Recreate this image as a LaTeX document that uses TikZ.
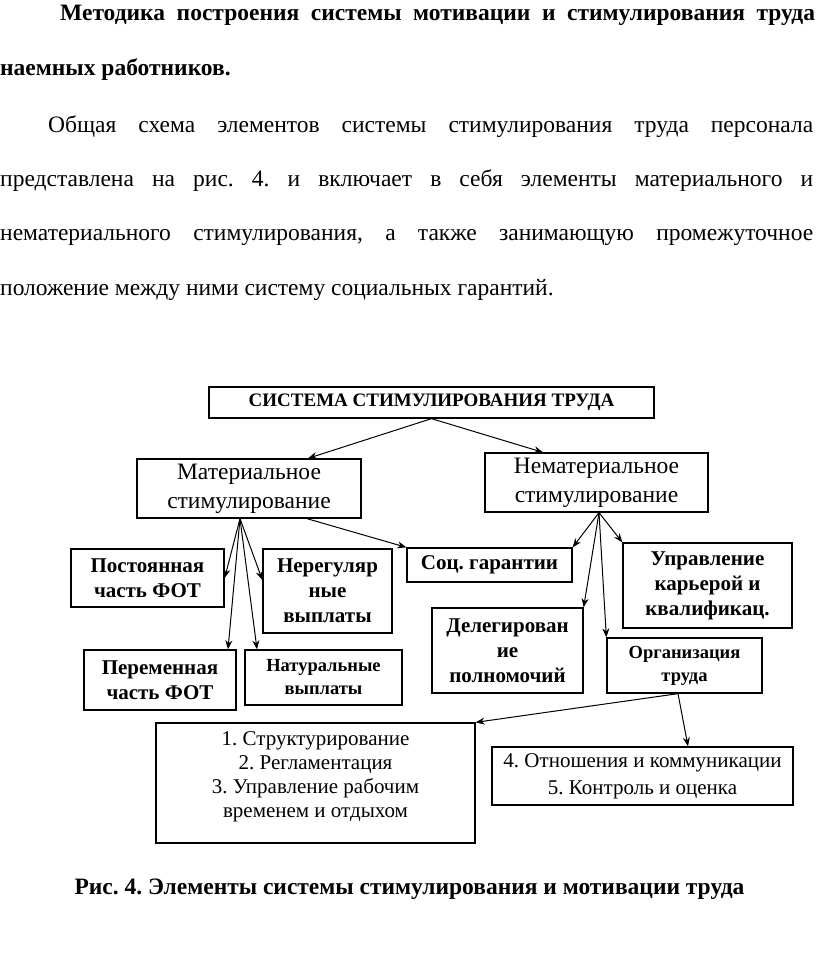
\documentclass[tikz,border=0pt]{standalone}
\usepackage{fontspec}
\setmainfont{Liberation Serif}
\usetikzlibrary{arrows.meta}
\frenchspacing

\begin{document}
\begin{tikzpicture}[x=1pt,y=-1pt,
		box/.style={draw, line width=1.3pt, align=center, inner sep=0pt},
		big/.style={font=\fontsize{23.5}{29}\selectfont},
		bld/.style={font=\fontsize{21}{25}\selectfont\bfseries},
		sml/.style={font=\fontsize{18.5}{23}\selectfont\bfseries},
		thn/.style={font=\fontsize{21}{24}\selectfont},
		txt/.style={anchor=base west, inner sep=0pt, font=\fontsize{23.5}{26}\selectfont},
		lnk/.style={line width=1pt, -{Stealth[length=9pt,width=7pt]}}]
\useasboundingbox (0,0) rectangle (816,958);

% text of the page
\node[txt, font=\fontsize{23.5}{26}\selectfont\bfseries] (t1) at (60,21) {\makebox[755pt][s]{Методика построения системы мотивации и стимулирования труда}};
\node[txt, font=\fontsize{23.5}{26}\selectfont\bfseries] (t2) at (0,75) {наемных работников.};
\node[txt] (t3) at (48,132) {\makebox[765pt][s]{Общая схема элементов системы стимулирования труда персонала}};
\node[txt] (t4) at (0,186) {\makebox[813pt][s]{представлена на рис. 4. и включает в себя элементы материального и}};
\node[txt] (t5) at (0,240) {\makebox[813pt][s]{нематериального стимулирования, а также занимающую промежуточное}};
\node[txt] (t6) at (0,295) {положение между ними систему социальных гарантий.};

% boxes
\node[box, font=\fontsize{19}{22}\selectfont\bfseries, minimum width=445pt, minimum height=31pt] (top) at (431.5,402.5) {СИСТЕМА СТИМУЛИРОВАНИЯ ТРУДА};
\node[box, big, minimum width=224pt, minimum height=59pt] (mat) at (249,488.5) {Материальное\\стимулирование};
\node[box, big, minimum width=223pt, minimum height=59pt] (nemat) at (596.5,482.5) {Нематериальное\\стимулирование};

\node[box, bld, minimum width=153pt, minimum height=58pt] (post) at (147.5,578) {Постоянная\\часть ФОТ};
\node[box, bld, minimum width=129pt, minimum height=84pt] (nereg) at (327.5,591) {Нерегуляр\\ные\\выплаты};
\node[box, bld, minimum width=165pt, minimum height=34pt] (soc) at (489.5,565) {Соц. гарантии};
\node[box, bld, minimum width=169pt, minimum height=85pt] (upr) at (707.5,585.5) {Управление\\карьерой и\\квалификац.};
\node[box, bld, minimum width=151pt, minimum height=85pt] (deleg) at (507.5,650.5) {Делегирован\\ие\\полномочий};
\node[box, sml, minimum width=155pt, minimum height=55pt] (org) at (684.5,665.5) {Организация\\труда};
\node[box, bld, minimum width=152pt, minimum height=60pt] (perem) at (160,680) {Переменная\\часть ФОТ};
\node[box, sml, minimum width=157pt, minimum height=55pt] (natur) at (323.5,677.5) {Натуральные\\выплаты};

\node[box, minimum width=319pt, minimum height=120pt] (org13) at (315.5,783) {};
\node[thn, align=center, anchor=north, inner sep=0pt] (org13t) at (315.5,731) {1. Структурирование\\2. Регламентация\\3. Управление рабочим\\временем и отдыхом};
\node[box, font=\fontsize{21}{27}\selectfont, minimum width=301pt, minimum height=58pt] (rel45) at (642.5,776) {4. Отношения и коммуникации\\5. Контроль и оценка};

% arrows
\draw[lnk] (top.south) -- ([xshift=59pt]mat.north);
\draw[lnk] (top.south) -- ([xshift=-53.5pt]nemat.north);

\coordinate (matout) at ([xshift=-9pt]mat.south);
\draw[lnk] (matout) -- (post.east);
\draw[lnk] (matout) -- ([yshift=11pt]nereg.west);
\draw[lnk] (matout) -- ([xshift=68pt]perem.north);
\draw[lnk] (matout) -- ([xshift=-66.5pt]natur.north);
\draw[lnk] ([xshift=58pt]mat.south) -- (soc.north west);

\coordinate (nematout) at ([xshift=2.5pt]nemat.south);
\draw[lnk] (nematout) -- (soc.north east);
\draw[lnk] (nematout) -- (deleg.north east);
\draw[lnk] (nematout) -- (org.north west);
\draw[lnk] (nematout) -- (upr.north west);

\coordinate (orgout) at ([xshift=-6.5pt]org.south);
\draw[lnk] (orgout) -- (org13.north east);
\draw[lnk] (orgout) -- ([xshift=45.5pt]rel45.north);

% caption
\node[anchor=base, inner sep=0pt, font=\fontsize{23.5}{26}\selectfont\bfseries] (cap) at (409.5,894) {Рис. 4. Элементы системы стимулирования и мотивации труда};
\end{tikzpicture}
\end{document}
